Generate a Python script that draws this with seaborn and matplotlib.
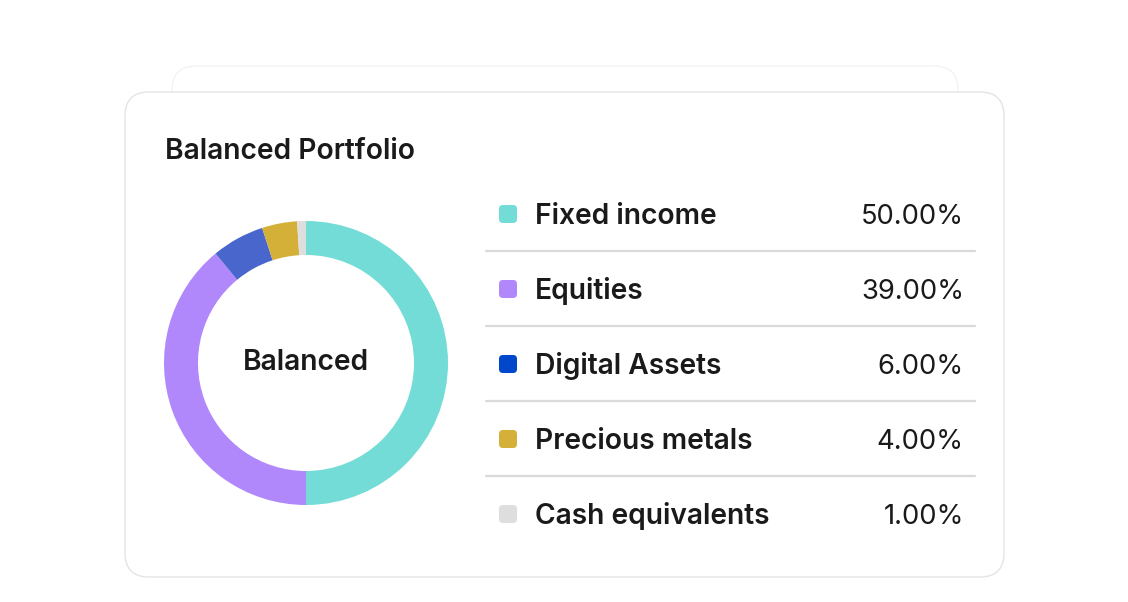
import matplotlib
matplotlib.use("Agg")
import matplotlib.pyplot as plt
from matplotlib.patches import FancyBboxPatch
import seaborn as sns

# ---- data ----
title = "Balanced Portfolio"
center_label = "Balanced"
categories = ["Fixed income", "Equities", "Digital Assets", "Precious metals", "Cash equivalents"]
values = [50.0, 39.0, 6.0, 4.0, 1.0]
slice_colors = ["#74DCD6", "#B088FC", "#4866CC", "#D4B038", "#DEDEDE"]
swatch_colors = ["#74DCD6", "#B088FC", "#0047CC", "#D4B038", "#DEDEDE"]
value_labels = [f"{v:.2f}%" for v in values]

sns.set_theme(style="white")
plt.rcParams["font.family"] = ["Inter", "DejaVu Sans"]

W, H = 1128, 602
fig = plt.figure(figsize=(W / 100, H / 100), dpi=100)
fig.patch.set_facecolor("white")

# background canvas in pixel coordinates
bg = fig.add_axes([0, 0, 1, 1])
bg.set_xlim(0, W)
bg.set_ylim(H, 0)
bg.axis("off")

# back card
bg.add_patch(FancyBboxPatch((172, 66), 786, 400, boxstyle="round,pad=0,rounding_size=24",
                            facecolor="white", edgecolor="#F3F3F3", linewidth=1.0, zorder=1))
# front card
bg.add_patch(FancyBboxPatch((125, 92), 879, 485, boxstyle="round,pad=0,rounding_size=24",
                            facecolor="white", edgecolor="#E4E4E4", linewidth=1.0, zorder=2))

bg.text(165, 159, title, fontsize=20.3, fontweight="semibold", color="#1A1A1A",
        ha="left", va="baseline", zorder=3)

# legend rows
row0, step = 214, 75
for i, (cat, lab, col) in enumerate(zip(categories, value_labels, swatch_colors)):
    y = row0 + i * step
    bg.add_patch(FancyBboxPatch((499, y - 9), 18, 18, boxstyle="round,pad=0,rounding_size=4",
                                facecolor=col, edgecolor="none", zorder=3))
    bg.text(535, y + 10, cat, fontsize=20.3, fontweight="semibold", color="#1A1A1A",
            ha="left", va="baseline", zorder=3)
    bg.text(964, y + 10, lab, fontsize=19.7, fontweight="normal", color="#1A1A1A",
            ha="right", va="baseline", zorder=3)
    if i < len(categories) - 1:
        bg.plot([486, 975], [y + 37, y + 37], color="#DADADA", linewidth=1.6, zorder=3)

# donut
cx, cy, r = 306, 363, 142
ax = fig.add_axes([(cx - r) / W, (H - cy - r) / H, 2 * r / W, 2 * r / H])
ax.pie(values, colors=slice_colors, startangle=90, counterclock=False,
       radius=1.0, wedgeprops=dict(width=34 / r, edgecolor="none"))
ax.set_xlim(-1, 1)
ax.set_ylim(-1, 1)
ax.set_aspect("equal")
ax.axis("off")
ax.text(0, 0, center_label, fontsize=20.3, fontweight="semibold", color="#1A1A1A",
        ha="center", va="center")

fig.savefig("out.png", dpi=100, facecolor="white")
